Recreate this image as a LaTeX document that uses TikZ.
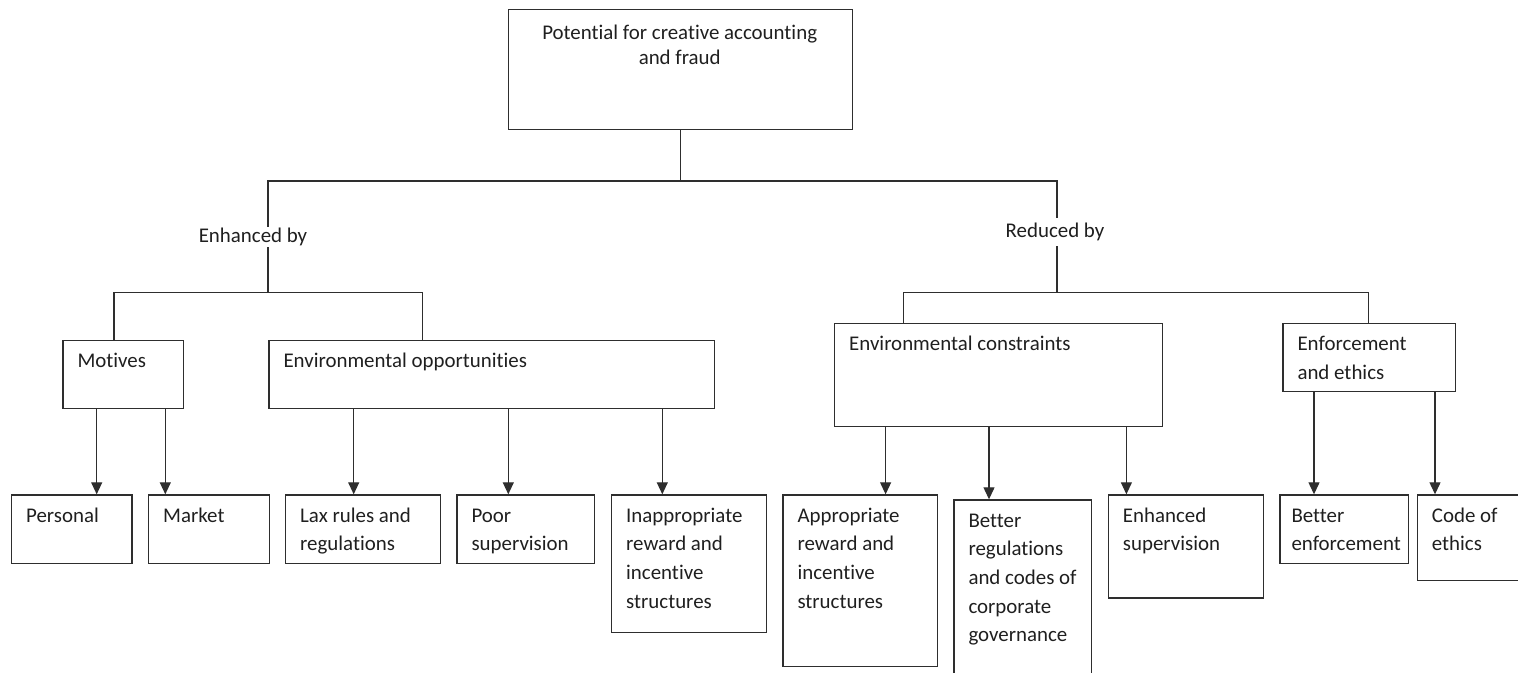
\documentclass[tikz,border=0pt]{standalone}
\usepackage{fontspec}
\setmainfont{Carlito}[RawFeature=-liga]
\usetikzlibrary{arrows.meta}

% left-aligned and centred line stacks whose baseline is the first line
\newcommand\lstack[1]{\vtop{\halign{##\hfil\cr#1\crcr}}}
\newcommand\cstack[1]{\vtop{\baselineskip=25pt\halign{\hfil##\hfil\cr#1\crcr}}}

\begin{document}
\begin{tikzpicture}[x=1pt, y=-1pt,
  ink/.style={draw=black!82, line width=1.2pt},
  box/.style={ink, rectangle, inner sep=0pt, anchor=north west},
  label font/.style={text=black!88, font=\fontsize{20.9}{28.7}\selectfont},
  txt/.style={label font, inner sep=0pt, anchor=base west},
  arr/.style={ink, -{Triangle[length=12pt,width=11pt]}},
  tag/.style={label font, fill=white, inner sep=1pt, anchor=base}]

\useasboundingbox (0,0) rectangle (1518,672);
\clip (0,0) rectangle (1518,672);

% ---------- boxes ----------
\node[box, minimum width=344pt,   minimum height=119.7pt] (top)      at (507.7,9)     {};
\node[box, minimum width=120.4pt, minimum height=68pt]    (motives)  at (62.3,340)    {};
\node[box, minimum width=445.7pt, minimum height=68pt]    (envopp)   at (268.3,340)   {};
\node[box, minimum width=328pt,   minimum height=103pt]   (envcon)   at (834,322.7)   {};
\node[box, minimum width=172.5pt, minimum height=68.3pt]  (enforce)  at (1282.3,322.7){};

\node[box, minimum width=120.3pt, minimum height=68.7pt]  (personal) at (11,494.3)    {};
\node[box, minimum width=120.7pt, minimum height=68.7pt]  (market)   at (148,494.3)   {};
\node[box, minimum width=155pt,   minimum height=68.7pt]  (lax)      at (285,494.3)   {};
\node[box, minimum width=137.7pt, minimum height=68.7pt]  (poor)     at (456.3,494.3) {};
\node[box, minimum width=154.7pt, minimum height=137.4pt] (inapp)    at (611,494.3)   {};
\node[box, minimum width=154.7pt, minimum height=171.4pt] (app)      at (782.3,494.3) {};
\node[box, minimum width=137.4pt, minimum height=190pt]   (betreg)   at (953.3,499.3) {};
\node[box, minimum width=155pt,   minimum height=103pt]   (enhsup)   at (1107.7,494.3){};
\node[box, minimum width=128.4pt, minimum height=68.7pt]  (betenf)   at (1279.3,494.3){};
\node[box, minimum width=130pt,   minimum height=85.4pt]  (code)     at (1416.7,494.3){};

% ---------- box texts ----------
\node[label font, inner sep=0pt, anchor=base] (top-t) at (679.7,39.3)
  {\cstack{Potential for creative accounting\cr and fraud}};
\node[txt] (motives-t)  at ([xshift=15pt,yshift=-27.8pt]motives.north west)  {\lstack{Motives}};
\node[txt] (envopp-t)   at ([xshift=15pt,yshift=-27.8pt]envopp.north west)   {\lstack{Environmental opportunities}};
\node[txt] (envcon-t)   at ([xshift=15pt,yshift=-27.8pt]envcon.north west)   {\lstack{Environmental constraints}};
\node[txt] (enforce-t)  at ([xshift=15pt,yshift=-27.8pt]enforce.north west)  {\lstack{Enforcement\cr and ethics}};
\node[txt] (personal-t) at ([xshift=15pt,yshift=-27.8pt]personal.north west) {\lstack{Personal}};
\node[txt] (market-t)   at ([xshift=15pt,yshift=-27.8pt]market.north west)   {\lstack{Market}};
\node[txt] (lax-t)      at ([xshift=15pt,yshift=-27.8pt]lax.north west)      {\lstack{Lax rules and\cr regulations}};
\node[txt] (poor-t)     at ([xshift=15pt,yshift=-27.8pt]poor.north west)     {\lstack{Poor\cr supervision}};
\node[txt] (inapp-t)    at ([xshift=15pt,yshift=-27.8pt]inapp.north west)    {\lstack{Inappropriate\cr reward and\cr incentive\cr structures}};
\node[txt] (app-t)      at ([xshift=15pt,yshift=-27.8pt]app.north west)      {\lstack{Appropriate\cr reward and\cr incentive\cr structures}};
\node[txt] (betreg-t)   at ([xshift=15pt,yshift=-27.8pt]betreg.north west)   {\lstack{Better\cr regulations\cr and codes of\cr corporate\cr governance}};
\node[txt] (enhsup-t)   at ([xshift=15pt,yshift=-27.8pt]enhsup.north west)   {\lstack{Enhanced\cr supervision}};
\node[txt] (betenf-t)   at ([xshift=12pt,yshift=-27.8pt]betenf.north west)   {\lstack{Better\cr enforcement}};
\node[txt] (code-t)     at ([xshift=15pt,yshift=-27.8pt]code.north west)     {\lstack{Code of\cr ethics}};

% ---------- branching lines ----------
\coordinate (jL)  at (268,181);
\coordinate (jR)  at (1057,181);
\coordinate (kL)  at (268,292.7);
\coordinate (kR)  at (1057,292.7);
\coordinate (kL1) at (114,292.7);
\coordinate (kL2) at (422.7,292.7);
\coordinate (kR1) at (903.3,292.7);
\coordinate (kR2) at (1368.8,292.7);

\draw[ink] (top.south) -- (top.south |- jL);
\draw[ink] (kL) -- (jL) -- (jR) -- (kR);
\draw[ink] (kL1 |- motives.north) -- (kL1) -- (kL2) -- (kL2 |- envopp.north);
\draw[ink] (kR1 |- envcon.north) -- (kR1) -- (kR2) -- (kR2 |- enforce.north);

\node[tag] (enh) at (253,242.7) {Enhanced by};
\node[tag, inner ysep=5pt] (red) at (1055,237.7) {Reduced by};

% ---------- arrows to the bottom row ----------
\coordinate (a1)  at (96.7,0);
\coordinate (a2)  at (165.3,0);
\coordinate (a3)  at (353.7,0);
\coordinate (a4)  at (508.3,0);
\coordinate (a5)  at (662.3,0);
\coordinate (a6)  at (885.6,0);
\coordinate (a7)  at (989,0);
\coordinate (a8)  at (1126.4,0);
\coordinate (a9)  at (1314,0);
\coordinate (a10) at (1435,0);

\draw[arr] (a1 |- motives.south) -- (a1 |- personal.north);
\draw[arr] (a2 |- motives.south) -- (a2 |- market.north);
\draw[arr] (a3 |- envopp.south)  -- (a3 |- lax.north);
\draw[arr] (a4 |- envopp.south)  -- (a4 |- poor.north);
\draw[arr] (a5 |- envopp.south)  -- (a5 |- inapp.north);
\draw[arr] (a6 |- envcon.south)  -- (a6 |- app.north);
\draw[arr] (a7 |- envcon.south)  -- (a7 |- betreg.north);
\draw[arr] (a8 |- envcon.south)  -- (a8 |- enhsup.north);
\draw[arr] (a9 |- enforce.south) -- (a9 |- betenf.north);
\draw[arr] (a10 |- enforce.south) -- (a10 |- code.north);

\end{tikzpicture}
\end{document}
